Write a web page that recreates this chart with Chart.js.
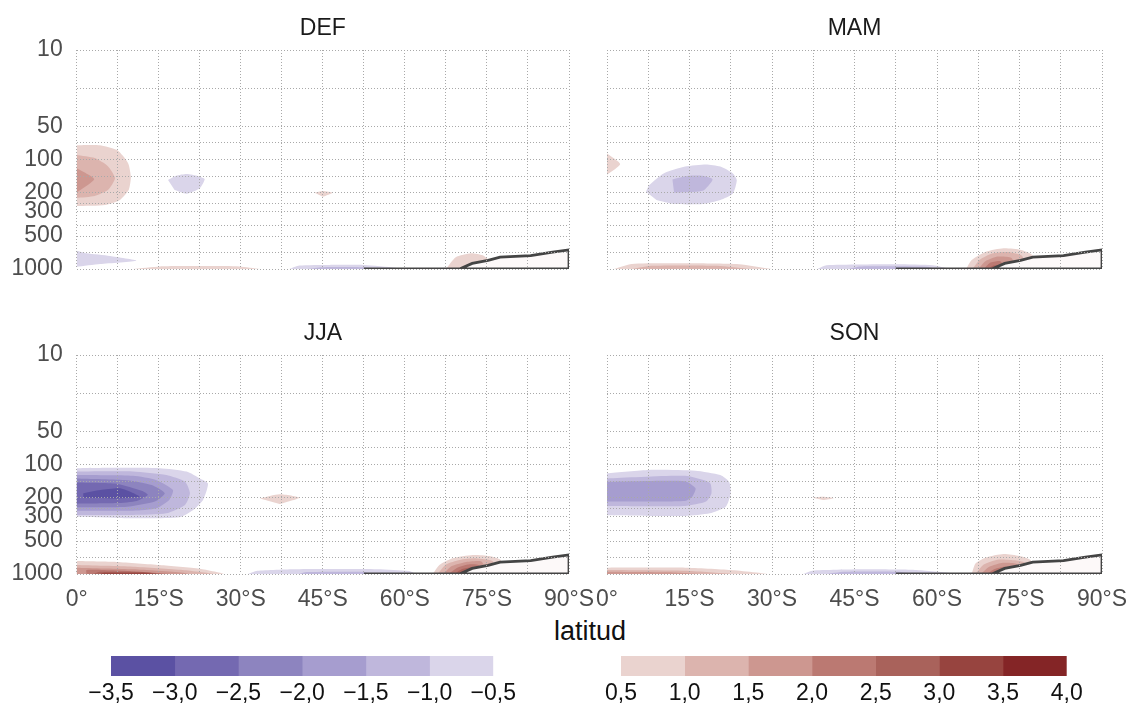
<!DOCTYPE html>
<html lang="es">
<head>
<meta charset="utf-8">
<title>Anomalías estacionales por latitud</title>
<script src="https://cdn.jsdelivr.net/npm/chart.js@4.4.1/dist/chart.umd.min.js"></script>
<style>
  html, body { margin: 0; padding: 0; background: #fff; }
  body { position: relative; width: 1133px; height: 706px; overflow: hidden; font-family: "Liberation Sans", Arial, sans-serif; }
  canvas { position: absolute; }
  #xtitle { position: absolute; left: 490px; width: 200px; top: 618px; line-height: 27px; text-align: center; font-size: 27px; color: #111; }
</style>
</head>
<body>
<canvas id="cDEF" width="590" height="300" style="left:0;top:0"></canvas>
<canvas id="cMAM" width="553" height="300" style="left:580px;top:0"></canvas>
<canvas id="cJJA" width="612" height="310" style="left:0;top:305px"></canvas>
<canvas id="cSON" width="580" height="310" style="left:580px;top:305px"></canvas>
<div id="xtitle">latitud</div>
<canvas id="cbNeg" width="480" height="70" style="left:60px;top:636px"></canvas>
<canvas id="cbPos" width="540" height="70" style="left:580px;top:636px"></canvas>

<script>
// contour levels and their fill colours (one colour per band between levels)
const negLevels = [-3.5, -3.0, -2.5, -2.0, -1.5, -1.0, -0.5];
const negColors = ["#5b51a3", "#7469b1", "#8d84bf", "#a69dcf", "#bfb7dc", "#dad5ea"];
const posLevels = [0.5, 1.0, 1.5, 2.0, 2.5, 3.0, 3.5, 4.0];
const posColors = ["#ead3cf", "#dcb4ae", "#cd9790", "#bb7972", "#a9625b", "#97443f", "#842526"];

// axes
const latTicks = [0, 7.5, 15, 22.5, 30, 37.5, 45, 52.5, 60, 67.5, 75, 82.5, 90];
const latLabels = ["0°", "", "15°S", "", "30°S", "", "45°S", "", "60°S", "", "75°S", "", "90°S"];
const pGrid = [10, 22.4, 50, 70, 100, 143, 200, 250, 300, 400, 500, 700, 1000];
const pLabels = ["10", "", "50", "", "100", "", "200", "", "300", "", "500", "", "1000"];

// surface (orography) outline, latitude / pressure
const surfaceLat = [52.5, 70, 72.3, 75.2, 77.4, 83, 87, 90, 90, 52.5];
const surfaceP = [1000, 1000, 888, 835, 778, 755, 700, 670, 1000, 1000];

// filled contours per season: [level, [[lat, hPa], ...]]
const patchesDEF = [
  [0.5, [[0, 74], [4.2, 74], [7.4, 82], [9.4, 108], [9.9, 145], [9.5, 190], [7.9, 234], [5.2, 260], [0, 266]]],
  [1.0, [[0, 91], [3.3, 97], [5.7, 115], [7.0, 148], [5.7, 190], [3.3, 215], [0, 224]]],
  [1.5, [[0, 120], [3.2, 151], [0, 201]]],
  [-0.5, [[16.7, 154], [18.2, 141], [20.1, 136], [22.2, 142], [23.4, 151], [22.5, 183], [20.1, 205], [17.9, 190]]],
  [0.5, [[43.5, 201], [45, 194], [46.8, 201], [45, 219]]],
  [-0.5, [[0, 681], [1.8, 719], [6.1, 761], [10.9, 840], [4.3, 900], [0, 953]]],
  [0.5, [[10.3, 1000], [15.2, 947], [22.5, 940], [29.8, 947], [33.5, 1000]]],
  [-0.5, [[38.9, 1000], [40.7, 930], [46.2, 918], [52.6, 920], [58.3, 975], [59, 1000]]],
  [-1.0, [[42, 1000], [45, 962], [52, 962], [56, 1000]]],
  [0.5, [[67.5, 1000], [69.3, 780], [72.1, 719], [74.2, 750], [75.4, 830], [76.5, 1000]]]
];

const patchesMAM = [
  [0.5, [[0, 88], [2.4, 110], [0, 138]]],
  [-0.5, [[7.1, 197], [7.7, 171], [10.3, 134], [14.2, 116], [18.0, 111], [20.6, 116], [22.9, 134], [23.6, 154], [22.9, 204], [20.6, 234], [17.4, 255], [12.2, 255], [9.0, 234]]],
  [-1.0, [[11.9, 152], [14.8, 141], [17.4, 141], [19.2, 152], [17.4, 193], [12.2, 201]]],
  [0.5, [[1.3, 1000], [4.5, 900], [14, 888], [24, 905], [29.9, 1000]]],
  [1.0, [[4.5, 1000], [8, 935], [20, 935], [26, 1000]]],
  [-0.5, [[38.3, 1000], [39.9, 925], [52.8, 906], [59.2, 925], [62.4, 1000]]],
  [-1.0, [[44, 1000], [46, 950], [58, 955], [60, 1000]]],
  [0.5, [[65.3, 1000], [66.3, 828], [68.9, 695], [72.1, 647], [75.3, 670], [77.3, 745], [78, 1000]]],
  [1.0, [[66.5, 1000], [67.8, 820], [70, 720], [73, 700], [75.5, 760], [76, 1000]]],
  [1.5, [[67.5, 1000], [68.8, 850], [71, 770], [73.5, 790], [74.5, 1000]]],
  [2.0, [[68.5, 1000], [69.6, 880], [71.5, 850], [72.5, 1000]]],
  [2.5, [[69.3, 1000], [70.3, 930], [71.5, 920], [72, 1000]]]
];

const patchesJJA = [
  [-0.5, [[0, 108], [7.3, 107], [15.2, 108], [20.1, 116], [22.5, 134], [24.0, 149], [23.1, 211], [21.3, 261], [18.8, 304], [10.3, 310], [0, 300]]],
  [-1.0, [[0, 116], [10.3, 116], [16.4, 125], [19.8, 144], [20.7, 183], [19.8, 234], [16.4, 279], [10.3, 289], [0, 289]]],
  [-1.5, [[0, 125], [10.3, 127], [14.6, 139], [17.6, 171], [16.9, 211], [14.6, 251], [10.3, 264], [0, 264]]],
  [-2.0, [[0, 134], [9.2, 139], [13.7, 154], [16.1, 183], [14.3, 218], [9.2, 243], [0, 246]]],
  [-2.5, [[0, 146], [7.3, 150], [12, 175], [13, 190], [11, 215], [7.3, 225], [0, 228]]],
  [-3.0, [[1.2, 183], [4.3, 171], [7.9, 165], [10.3, 182], [11.5, 197], [7.3, 204], [1.2, 201]]],
  [0.5, [[33.5, 204], [37.1, 187], [40.7, 201], [37.1, 230]]],
  [0.5, [[0, 761], [7.3, 776], [15.2, 828], [22.5, 895], [26.8, 1000], [0, 1000]]],
  [1.0, [[0, 828], [10.3, 857], [19.4, 918], [24.9, 1000], [0, 1000]]],
  [1.5, [[0, 875], [10.3, 906], [19.4, 972], [20.5, 1000], [0, 1000]]],
  [2.0, [[1.8, 1000], [1.8, 918], [10.3, 946], [17, 1000]]],
  [2.5, [[3, 1000], [4.3, 955], [12, 960], [15.5, 1000]]],
  [3.0, [[4.3, 1000], [5, 975], [12, 975], [14.6, 1000]]],
  [-0.5, [[31.3, 1000], [33, 935], [40, 905], [55, 905], [60.8, 940], [62, 1000]]],
  [-1.0, [[40.7, 1000], [42, 960], [52.2, 955], [54, 1000]]],
  [0.5, [[65.1, 1000], [66.3, 828], [68.7, 719], [72.4, 670], [75.4, 685], [77.5, 745], [78, 1000]]],
  [1.0, [[66, 1000], [67.5, 820], [70, 745], [73, 720], [76, 760], [76.5, 1000]]],
  [1.5, [[67, 1000], [68.5, 850], [71, 780], [74, 770], [75, 1000]]],
  [2.0, [[68, 1000], [69.5, 880], [71.5, 820], [73.5, 830], [74, 1000]]],
  [2.5, [[69, 1000], [70.5, 900], [72.5, 870], [73, 1000]]],
  [3.0, [[69.5, 1000], [71, 930], [72.2, 920], [72.5, 1000]]]
];

const patchesSON = [
  [-0.5, [[0, 120], [7.7, 112], [16.1, 114], [20.6, 125], [22.2, 144], [22.5, 183], [21.6, 243], [18.7, 279], [14.2, 295], [0, 290]]],
  [-1.0, [[0, 134], [14.2, 127], [18.7, 147], [19, 183], [18, 218], [14.2, 239], [0, 239]]],
  [-1.5, [[0, 144], [14.2, 142], [16.1, 165], [15.5, 197], [14.2, 215], [0, 218]]],
  [0.5, [[37.3, 201], [39.3, 197], [41.2, 203], [39.3, 211]]],
  [0.5, [[0, 875], [14.2, 875], [22.5, 918], [29, 1000], [0, 1000]]],
  [1.0, [[0, 918], [14.2, 933], [22, 990], [22.5, 1000], [0, 1000]]],
  [1.5, [[0, 954], [11, 966], [16.5, 1000], [0, 1000]]],
  [-0.5, [[35.7, 1000], [37.3, 933], [46.4, 906], [56, 918], [63.1, 985], [63.5, 1000]]],
  [-1.0, [[39.9, 1000], [43.1, 954], [52.8, 954], [56, 1000]]],
  [0.5, [[66.3, 1000], [67, 800], [68.9, 705], [72.1, 656], [75, 685], [77, 745], [78, 1000]]],
  [1.0, [[67, 1000], [68.5, 820], [71, 740], [74, 750], [76, 790], [76.5, 1000]]],
  [1.5, [[68, 1000], [69.5, 860], [72, 790], [74.5, 810], [75, 1000]]],
  [2.0, [[69, 1000], [70.5, 900], [72.5, 860], [73.5, 1000]]]
];

Chart.defaults.font.family = '"Liberation Sans", Arial, sans-serif';
Chart.defaults.animation = false;
Chart.defaults.events = [];
Chart.defaults.plugins.legend.display = false;
Chart.defaults.plugins.tooltip.enabled = false;

function levelColor(level) {
  if (level > 0) return posColors[posLevels.indexOf(level)];
  return negColors[negLevels.indexOf(level) - 1];
}

const gridStyle = { color: "#a9a9a9", lineWidth: 1, drawTicks: false, z: 1 };
const gridBorder = { display: false, dash: [1, 2] };

// one lat/pressure panel; yw = width of the pressure axis, plotRight = right edge of the plot, xh = height of the latitude axis
function drawPanel(id, title, patches, yw, plotRight, xh, showY, showX) {
  const canvas = document.getElementById(id);
  const datasets = patches.map(([level, pts]) => ({
    data: pts.map(([x, y]) => ({ x, y })),
    showLine: true,
    fill: "shape",
    tension: 0.2,
    backgroundColor: levelColor(level),
    borderColor: "transparent",
    borderWidth: 0,
    pointRadius: 0
  }));
  datasets.push({
    data: surfaceLat.map((x, i) => ({ x, y: surfaceP[i] })),
    showLine: true,
    fill: "shape",
    tension: 0,
    backgroundColor: "#fdf9f9",
    borderColor: "#444444",
    borderWidth: 2.8,
    pointRadius: 0
  });
  // outer bands first, surface on top
  datasets.forEach((d, i) => { d.order = datasets.length - i; });

  new Chart(canvas, {
    type: "scatter",
    data: { datasets },
    options: {
      responsive: false,
      layout: { padding: { left: 0, right: canvas.width - plotRight, top: 0, bottom: 0 } },
      plugins: {
        title: {
          display: true, text: title, fullSize: false, color: "#1a1a1a",
          font: { size: 23, weight: "normal" }, padding: { top: 15, bottom: 7.4 }
        }
      },
      scales: {
        x: {
          type: "linear", min: 0, max: 90,
          afterBuildTicks: s => { s.ticks = latTicks.map(v => ({ value: v })); },
          afterFit: s => { s.height = xh; },
          grid: gridStyle, border: gridBorder,
          ticks: {
            display: showX, autoSkip: false, maxRotation: 0, padding: 12,
            color: "#4d4d4d", font: { size: 23 },
            callback: v => latLabels[latTicks.indexOf(v)]
          }
        },
        y: {
          type: "logarithmic", reverse: true, min: 10, max: 1000,
          afterBuildTicks: s => { s.ticks = pGrid.map(v => ({ value: v })); },
          afterFit: s => { s.width = yw; },
          grid: gridStyle, border: gridBorder,
          ticks: {
            display: showY, autoSkip: false, padding: 14,
            color: "#4d4d4d", font: { size: 23 },
            callback: v => pLabels[pGrid.indexOf(v)]
          }
        }
      }
    }
  });
}

function fmtLevel(v) {
  return (v < 0 ? "\u2212" : "") + Math.abs(v).toFixed(1).replace(".", ",");
}

// horizontal colour bar built from floating bars, one per band
function drawColorbar(id, levels, colors, plotLeft, plotRight) {
  const canvas = document.getElementById(id);
  new Chart(canvas, {
    type: "bar",
    data: {
      labels: [""],
      datasets: colors.map((c, i) => ({
        data: [[levels[i], levels[i + 1]]],
        backgroundColor: c, borderWidth: 0, grouped: false,
        barPercentage: 1, categoryPercentage: 1
      }))
    },
    options: {
      indexAxis: "y",
      responsive: false,
      layout: { padding: { left: plotLeft, right: canvas.width - plotRight, top: 20, bottom: 0 } },
      scales: {
        x: {
          type: "linear", min: levels[0], max: levels[levels.length - 1],
          afterBuildTicks: s => { s.ticks = levels.map(v => ({ value: v })); },
          afterFit: s => { s.height = 30; },
          grid: { display: false }, border: { display: false },
          ticks: { autoSkip: false, maxRotation: 0, padding: -4, color: "#111", font: { size: 23 }, callback: v => fmtLevel(v) }
        },
        y: { display: false }
      }
    }
  });
}

drawPanel("cDEF", "DEF", patchesDEF, 76.7, 569, 31, true, false);
drawPanel("cMAM", "MAM", patchesMAM, 27, 522, 31, false, false);
drawPanel("cJJA", "JJA", patchesJJA, 76.7, 569, 41, true, true);
drawPanel("cSON", "SON", patchesSON, 27, 522, 41, false, true);

drawColorbar("cbNeg", negLevels, negColors, 51, 433.3);
drawColorbar("cbPos", posLevels, posColors, 41, 486.7);
</script>
</body>
</html>
